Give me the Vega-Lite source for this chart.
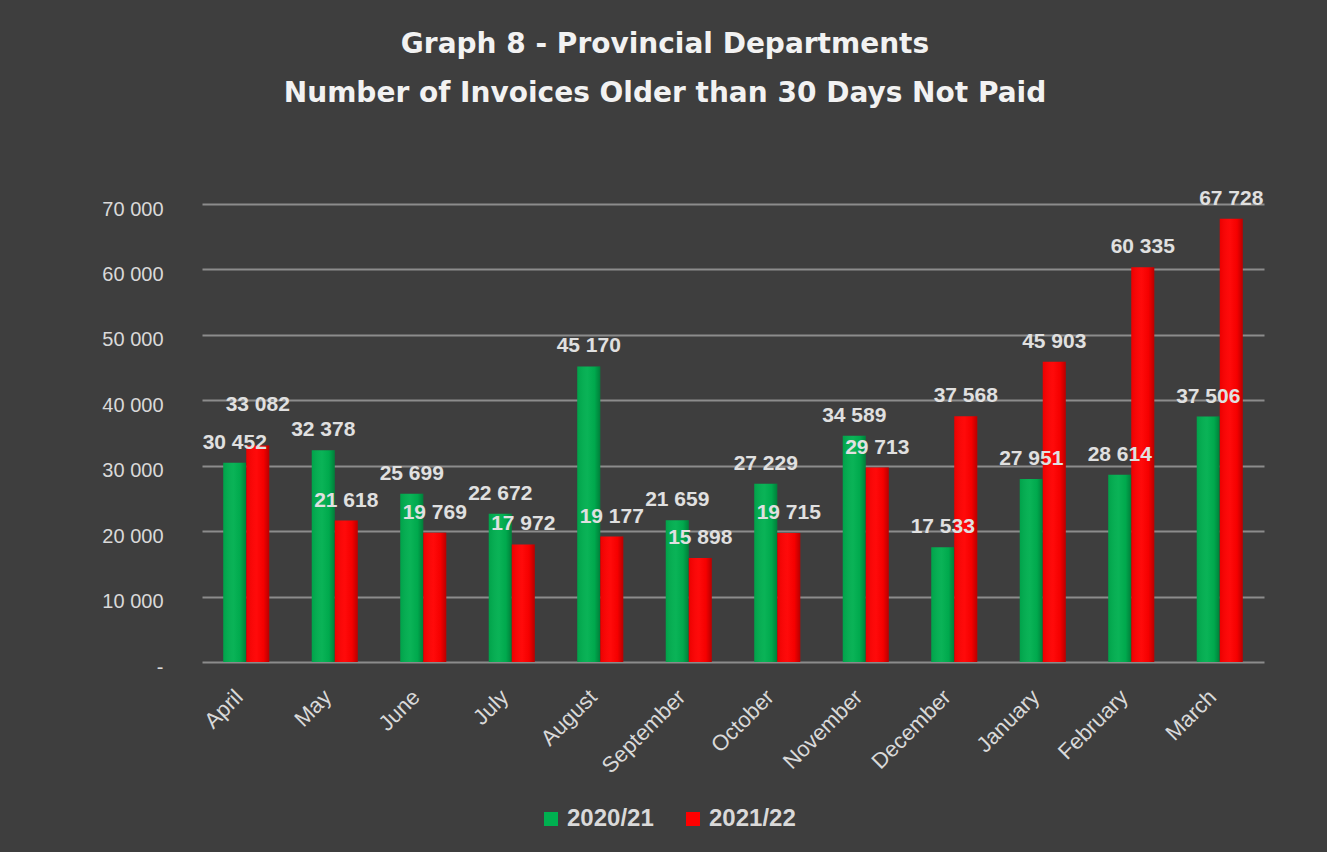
{
  "$schema": "https://vega.github.io/schema/vega-lite/v6.json",
  "autosize": {"type": "none"},
  "width": 1062,
  "height": 458,
  "padding": {"left": 202, "top": 204, "right": 63, "bottom": 190},
  "background": "#3e3e3e",
  "config": {
    "locale": {"number": {"decimal": ".", "thousands": " ", "grouping": [3], "currency": ["", ""]}},
    "view": {"stroke": null},
    "font": "Liberation Sans"
  },
  "title": {
    "text": ["Graph 8 - Provincial Departments", "Number of Invoices Older than 30 Days Not Paid"],
    "anchor": "middle",
    "frame": "group",
    "dx": -68,
    "offset": 80,
    "fontSize": 28,
    "fontWeight": "bold",
    "color": "#f2f2f2",
    "lineHeight": 49,
    "font": "DejaVu Sans"
  },
  "data": {
    "values": [
      {"month": "April", "series": "2020/21", "value": 30452},
      {"month": "May", "series": "2020/21", "value": 32378},
      {"month": "June", "series": "2020/21", "value": 25699},
      {"month": "July", "series": "2020/21", "value": 22672},
      {"month": "August", "series": "2020/21", "value": 45170},
      {"month": "September", "series": "2020/21", "value": 21659},
      {"month": "October", "series": "2020/21", "value": 27229},
      {"month": "November", "series": "2020/21", "value": 34589},
      {"month": "December", "series": "2020/21", "value": 17533},
      {"month": "January", "series": "2020/21", "value": 27951},
      {"month": "February", "series": "2020/21", "value": 28614},
      {"month": "March", "series": "2020/21", "value": 37506},
      {"month": "April", "series": "2021/22", "value": 33082},
      {"month": "May", "series": "2021/22", "value": 21618},
      {"month": "June", "series": "2021/22", "value": 19769},
      {"month": "July", "series": "2021/22", "value": 17972},
      {"month": "August", "series": "2021/22", "value": 19177},
      {"month": "September", "series": "2021/22", "value": 15898},
      {"month": "October", "series": "2021/22", "value": 19715},
      {"month": "November", "series": "2021/22", "value": 29713},
      {"month": "December", "series": "2021/22", "value": 37568},
      {"month": "January", "series": "2021/22", "value": 45903},
      {"month": "February", "series": "2021/22", "value": 60335},
      {"month": "March", "series": "2021/22", "value": 67728}
    ]
  },
  "encoding": {
    "x": {
      "field": "month",
      "type": "nominal",
      "sort": ["April", "May", "June", "July", "August", "September", "October", "November", "December", "January", "February", "March"],
      "scale": {"paddingInner": 0.48, "paddingOuter": 0.24},
      "axis": {
        "title": null,
        "labelAngle": -45,
        "labelFontSize": 22,
        "labelColor": "#d9d9d9",
        "labelPadding": 24,
        "labelOffset": -14,
        "ticks": false,
        "domain": false,
        "grid": false
      }
    },
    "xOffset": {"field": "series", "type": "nominal", "sort": ["2020/21", "2021/22"]}
  },
  "layer": [
    {
      "mark": {"type": "bar"},
      "encoding": {
        "y": {
          "field": "value",
          "type": "quantitative",
          "scale": {"domain": [0, 70000]},
          "axis": {
            "title": null,
            "values": [0, 10000, 20000, 30000, 40000, 50000, 60000, 70000],
            "format": ",d",
            "labelExpr": "datum.value == 0 ? '-' : datum.label",
            "labelFontSize": 20,
            "labelColor": "#d9d9d9",
            "labelPadding": 39,
            "labelOffset": 5,
            "ticks": false,
            "domain": false,
            "grid": true,
            "gridColor": "#8c8c8c",
            "gridWidth": 2
          }
        },
        "color": {
          "field": "series",
          "type": "nominal",
          "scale": {"domain": ["2020/21", "2021/22"], "range": ["#00b050", "#ff0000"]},
          "legend": {
            "orient": "none",
            "legendX": 337,
            "legendY": 603,
            "direction": "horizontal",
            "title": null,
            "symbolType": "square",
            "symbolSize": 196,
            "symbolStrokeWidth": 0,
            "labelFontSize": 24,
            "labelFontWeight": "bold",
            "labelColor": "#d9d9d9",
            "labelOffset": 4,
            "columnPadding": 27
          }
        }
      }
    },
    {
      "mark": {
        "type": "bar",
        "fill": {
          "gradient": "linear",
          "x1": 0, "x2": 1, "y1": 0, "y2": 0,
          "stops": [
            {"offset": 0, "color": "rgba(0,0,0,0.08)"},
            {"offset": 0.45, "color": "rgba(255,255,255,0.04)"},
            {"offset": 0.75, "color": "rgba(0,0,0,0.04)"},
            {"offset": 1, "color": "rgba(0,0,0,0.28)"}
          ]
        }
      },
      "encoding": {
        "y": {"field": "value", "type": "quantitative"}
      }
    },
    {
      "transform": [{"filter": "!(datum.month == 'April' && datum.series == '2021/22')"}],
      "mark": {"type": "text", "baseline": "middle", "dy": -20, "fontSize": 21, "fontWeight": "bold", "color": "#e0e0e0"},
      "encoding": {
        "y": {"field": "value", "type": "quantitative"},
        "text": {"field": "value", "type": "quantitative", "format": ",d"}
      }
    },
    {
      "transform": [{"filter": "datum.month == 'April' && datum.series == '2021/22'"}],
      "mark": {"type": "text", "baseline": "middle", "dy": -41, "fontSize": 21, "fontWeight": "bold", "color": "#e0e0e0"},
      "encoding": {
        "y": {"field": "value", "type": "quantitative"},
        "text": {"field": "value", "type": "quantitative", "format": ",d"}
      }
    }
  ]
}
